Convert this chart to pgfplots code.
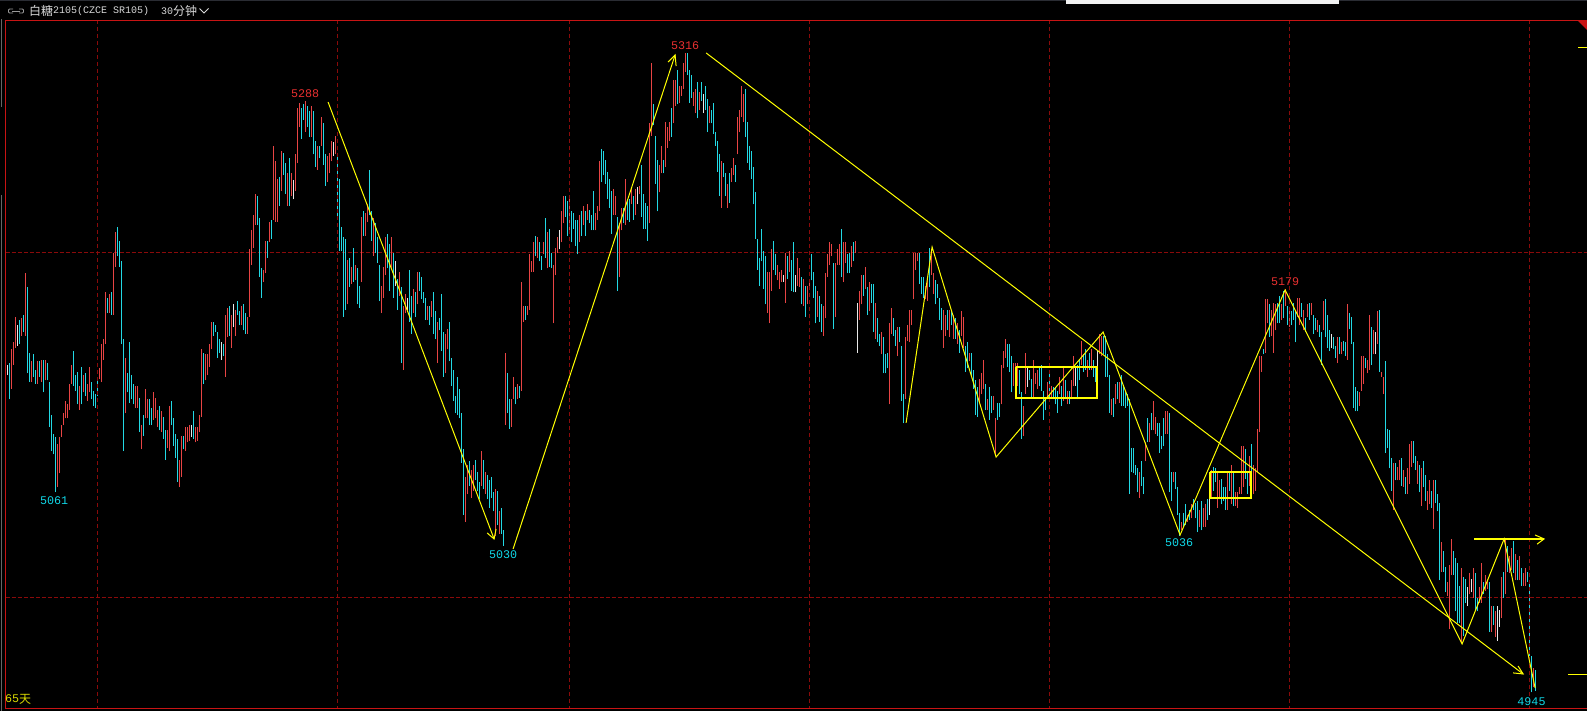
\documentclass[border=0pt]{standalone}
\usepackage{fontspec}
\usepackage{pgfplots}
\usepackage{pgfplotstable}
\pgfplotsset{compat=1.18}
\setmainfont{Liberation Mono}
\newfontfamily\cjk{Noto Sans CJK SC}
\definecolor{cR}{HTML}{E84444}
\definecolor{cB}{HTML}{22D8E4}
\definecolor{cW}{HTML}{E8E8E8}
\definecolor{cGrid}{HTML}{8A0A0A}
\definecolor{cFrame}{HTML}{C81414}
\definecolor{cStripe}{HTML}{2A2C33}
\definecolor{yel}{HTML}{FFFF00}
\definecolor{lblR}{HTML}{E83030}
\definecolor{lblB}{HTML}{10D8E8}
\pgfplotsset{hlbar/.style n args={2}{draw=none,mark=none,x filter/.expression={\thisrow{c}==#2?x:nan},error bars/.cd,y dir=plus,y explicit,error mark=none,error bar style={line width=1bp,solid,draw=#1},/pgfplots/.cd}}
% i low high colour (1 red, 2 cyan, 3 white), 30 min bars
\pgfplotstableread{
i lo hi c
0 5129 5135 3
1 5115 5136 2
2 5121 5144 1
3 5135 5148 1
4 5145 5163 1
5 5146 5158 3
6 5147 5161 2
7 5152 5162 1
8 5154 5164 2
9 5152 5188 1
10 5130 5180 2
11 5125 5142 2
12 5125 5137 1
13 5128 5141 2
14 5124 5132 2
15 5124 5137 1
16 5128 5137 2
17 5125 5138 1
18 5119 5138 2
19 5126 5138 1
20 5126 5136 2
21 5099 5125 2
22 5085 5106 2
23 5083 5095 2
24 5061 5093 2
25 5064 5089 1
26 5072 5093 1
27 5093 5100 1
28 5100 5107 1
29 5104 5114 1
30 5104 5112 1
31 5109 5124 1
32 5124 5135 1
33 5123 5143 2
34 5120 5129 2
35 5112 5131 2
36 5109 5123 1
37 5112 5134 2
38 5119 5129 1
39 5117 5130 2
40 5114 5124 1
41 5119 5134 1
42 5115 5125 2
43 5111 5120 2
44 5110 5118 2
45 5117 5128 2
46 5127 5133 1
47 5125 5147 1
48 5138 5150 1
49 5147 5177 1
50 5165 5174 2
51 5165 5176 1
52 5164 5177 2
53 5164 5200 1
54 5192 5212 1
55 5198 5215 2
56 5192 5207 2
57 5147 5195 2
58 5085 5150 2
59 5107 5139 1
60 5119 5130 2
61 5113 5148 2
62 5115 5129 2
63 5112 5124 2
64 5110 5123 1
65 5110 5123 1
66 5096 5116 2
67 5086 5100 1
68 5094 5106 2
69 5104 5121 1
70 5104 5115 1
71 5100 5115 2
72 5100 5110 2
73 5103 5119 1
74 5104 5116 1
75 5099 5109 1
76 5097 5111 2
77 5096 5108 1
78 5092 5105 2
79 5080 5097 2
80 5087 5097 1
81 5085 5111 1
82 5100 5114 2
83 5088 5104 2
84 5081 5095 2
85 5067 5092 2
86 5064 5080 1
87 5070 5094 1
88 5086 5094 2
89 5085 5099 1
90 5090 5099 1
91 5091 5100 1
92 5093 5100 3
93 5092 5108 2
94 5090 5099 1
95 5091 5099 1
96 5096 5106 1
97 5105 5144 1
98 5124 5142 2
99 5126 5141 1
100 5129 5141 1
101 5134 5147 1
102 5144 5160 1
103 5152 5160 2
104 5154 5158 2
105 5139 5154 2
106 5142 5150 2
107 5138 5148 3
108 5140 5147 2
109 5128 5164 1
110 5151 5168 1
111 5152 5169 2
112 5145 5164 1
113 5157 5170 3
114 5152 5167 1
115 5164 5172 2
116 5158 5166 2
117 5158 5169 1
118 5155 5170 2
119 5153 5165 2
120 5153 5163 1
121 5163 5202 1
122 5193 5213 1
123 5203 5222 1
124 5216 5234 1
125 5216 5233 2
126 5186 5220 2
127 5174 5191 2
128 5183 5190 1
129 5188 5207 1
130 5197 5207 2
131 5206 5218 1
132 5208 5219 2
133 5219 5262 1
134 5218 5253 1
135 5218 5243 1
136 5227 5244 2
137 5236 5259 1
138 5245 5258 2
139 5234 5252 2
140 5227 5246 1
141 5227 5255 2
142 5233 5246 1
143 5231 5242 3
144 5236 5257 1
145 5252 5284 1
146 5273 5287 1
147 5266 5284 2
148 5277 5286 2
149 5270 5288 1
150 5273 5285 2
151 5267 5282 2
152 5267 5285 1
153 5257 5282 2
154 5250 5265 2
155 5248 5262 1
156 5255 5262 2
157 5262 5279 1
158 5251 5275 2
159 5239 5257 2
160 5241 5256 1
161 5246 5258 1
162 5253 5265 1
163 5256 5264 3
164 5257 5268 1
165 5220 5257 2
166 5201 5243 2
167 5201 5215 2
168 5163 5209 2
169 5167 5208 2
170 5170 5196 1
171 5180 5197 2
172 5182 5192 1
173 5183 5203 2
174 5184 5193 1
175 5170 5191 2
176 5168 5181 2
177 5183 5221 1
178 5210 5224 2
179 5210 5223 1
180 5218 5228 1
181 5222 5248 2
182 5207 5224 2
183 5198 5220 1
184 5200 5217 2
185 5194 5209 2
186 5172 5193 2
187 5165 5181 1
188 5174 5192 1
189 5187 5209 1
190 5191 5211 2
191 5178 5205 2
192 5190 5209 1
193 5174 5200 2
194 5181 5195 3
195 5167 5185 2
196 5175 5189 1
197 5136 5180 2
198 5132 5169 1
199 5165 5176 1
200 5167 5174 3
201 5160 5190 2
202 5153 5175 2
203 5165 5179 1
204 5163 5177 2
205 5170 5189 1
206 5178 5189 2
207 5173 5186 2
208 5171 5177 2
209 5161 5174 2
210 5161 5169 1
211 5158 5169 2
212 5163 5172 1
213 5153 5177 2
214 5150 5166 2
215 5136 5160 1
216 5155 5162 2
217 5143 5176 2
218 5128 5154 2
219 5130 5153 1
220 5144 5156 1
221 5137 5160 2
222 5123 5139 2
223 5114 5132 2
224 5107 5117 2
225 5106 5128 2
226 5104 5121 2
227 5078 5107 2
228 5048 5086 2
229 5044 5070 1
230 5060 5077 1
231 5065 5079 2
232 5058 5074 1
233 5062 5077 1
234 5068 5080 2
235 5062 5073 2
236 5057 5067 2
237 5065 5085 1
238 5063 5080 2
239 5060 5073 1
240 5057 5071 2
241 5052 5068 2
242 5058 5070 2
243 5050 5061 2
244 5036 5063 1
245 5042 5062 2
246 5037 5050 1
247 5037 5052 2
248 5030 5039 2
249 5100 5142 1
250 5107 5130 2
251 5098 5115 2
252 5099 5115 1
253 5115 5128 1
254 5112 5122 2
255 5115 5124 1
256 5116 5123 2
257 5120 5183 1
258 5160 5169 1
259 5161 5169 2
260 5164 5169 1
261 5167 5199 1
262 5189 5195 1
263 5189 5206 1
264 5198 5210 2
265 5197 5209 1
266 5195 5206 2
267 5190 5198 2
268 5199 5206 1
269 5197 5220 2
270 5191 5212 1
271 5192 5214 2
272 5191 5200 2
273 5159 5193 1
274 5187 5203 1
275 5200 5209 1
276 5202 5213 3
277 5206 5224 1
278 5217 5233 1
279 5221 5233 2
280 5210 5230 2
281 5213 5231 1
282 5206 5224 2
283 5214 5223 2
284 5204 5219 2
285 5199 5219 2
286 5206 5222 1
287 5210 5224 2
288 5216 5227 1
289 5210 5224 2
290 5219 5228 1
291 5217 5225 2
292 5213 5222 2
293 5213 5236 2
294 5213 5223 1
295 5219 5227 1
296 5224 5253 1
297 5241 5260 2
298 5245 5259 2
299 5240 5254 2
300 5231 5247 2
301 5226 5243 2
302 5211 5236 2
303 5222 5237 1
304 5222 5233 1
305 5178 5221 2
306 5186 5217 1
307 5213 5226 1
308 5217 5226 2
309 5216 5243 1
310 5219 5231 2
311 5218 5231 2
312 5228 5238 1
313 5219 5233 2
314 5222 5237 1
315 5228 5238 3
316 5234 5239 1
317 5221 5251 2
318 5214 5234 2
319 5214 5229 2
320 5207 5227 2
321 5217 5275 1
322 5268 5310 1
323 5274 5286 2
324 5240 5268 2
325 5224 5254 2
326 5235 5251 1
327 5246 5262 1
328 5246 5254 2
329 5250 5276 1
330 5261 5273 1
331 5265 5276 1
332 5267 5284 2
333 5275 5300 1
334 5285 5300 1
335 5286 5306 2
336 5287 5297 1
337 5291 5297 1
338 5295 5310 1
339 5305 5316 1
340 5303 5316 2
341 5287 5306 2
342 5290 5303 2
343 5285 5293 1
344 5281 5295 1
345 5278 5299 2
346 5283 5293 1
347 5288 5299 2
348 5281 5292 3
349 5283 5297 2
350 5270 5289 2
351 5275 5285 1
352 5275 5283 2
353 5269 5287 2
354 5262 5270 2
355 5247 5265 2
356 5233 5257 2
357 5226 5253 1
358 5244 5252 2
359 5233 5246 2
360 5226 5240 1
361 5229 5246 2
362 5241 5249 1
363 5245 5255 1
364 5241 5251 2
365 5257 5279 1
366 5270 5283 1
367 5279 5297 1
368 5276 5292 1
369 5267 5295 2
370 5252 5276 2
371 5248 5262 2
372 5243 5259 2
373 5228 5250 2
374 5208 5235 2
375 5190 5208 2
376 5181 5197 2
377 5195 5214 2
378 5179 5201 2
379 5170 5198 2
380 5165 5189 1
381 5159 5189 1
382 5178 5202 1
383 5190 5207 2
384 5187 5199 2
385 5184 5193 1
386 5179 5189 1
387 5183 5190 1
388 5183 5187 3
389 5171 5200 1
390 5185 5198 2
391 5189 5201 1
392 5178 5196 2
393 5177 5206 2
394 5177 5187 3
395 5181 5197 1
396 5180 5191 1
397 5170 5186 2
398 5169 5185 1
399 5163 5181 2
400 5170 5181 1
401 5179 5184 1
402 5184 5199 2
403 5174 5189 2
404 5159 5181 2
405 5163 5178 1
406 5160 5175 2
407 5154 5170 2
408 5152 5169 1
409 5162 5188 1
410 5186 5199 1
411 5193 5206 1
412 5198 5205 1
413 5156 5194 2
414 5163 5194 1
415 5193 5202 1
416 5193 5205 1
417 5186 5214 2
418 5183 5206 1
419 5194 5206 1
420 5188 5199 2
421 5188 5200 2
422 5192 5204 1
423 5195 5206 2
424 5200 5207 1
425 5142 5171 3
426 5161 5178 1
427 5170 5187 1
428 5175 5187 2
429 5179 5192 1
430 5164 5180 2
431 5166 5183 1
432 5171 5182 2
433 5154 5182 2
434 5150 5171 1
435 5148 5162 2
436 5146 5153 2
437 5141 5154 1
438 5130 5151 2
439 5130 5141 2
440 5133 5142 2
441 5112 5159 1
442 5153 5168 1
443 5152 5162 2
444 5146 5155 2
445 5140 5157 1
446 5148 5157 2
447 5114 5146 2
448 5101 5118 2
449 5115 5151 1
450 5149 5158 1
451 5148 5167 1
452 5158 5167 1
453 5173 5200 1
454 5190 5200 1
455 5195 5200 1
456 5182 5200 2
457 5176 5186 2
458 5174 5186 2
459 5173 5181 1
460 5172 5184 1
461 5180 5203 2
462 5187 5202 1
463 5176 5188 1
464 5170 5184 2
465 5174 5182 2
466 5161 5174 2
467 5155 5168 2
468 5145 5167 1
469 5152 5164 1
470 5155 5167 2
471 5151 5167 1
472 5158 5167 2
473 5150 5164 1
474 5150 5162 2
475 5147 5159 1
476 5142 5155 2
477 5152 5166 1
478 5145 5163 1
479 5131 5146 2
480 5133 5148 2
481 5137 5142 1
482 5128 5142 2
483 5121 5132 2
484 5106 5126 2
485 5105 5122 2
486 5113 5127 1
487 5118 5130 1
488 5121 5138 1
489 5109 5124 2
490 5109 5115 1
491 5103 5122 2
492 5107 5117 2
493 5109 5117 1
494 5082 5104 1
495 5103 5113 2
496 5105 5113 2
497 5112 5135 1
498 5133 5143 1
499 5139 5150 1
500 5134 5147 2
501 5131 5147 2
502 5119 5140 2
503 5123 5136 1
504 5115 5136 1
505 5123 5136 1
506 5118 5132 2
507 5092 5119 2
508 5094 5111 1
509 5118 5142 1
510 5122 5134 3
511 5126 5132 2
512 5116 5127 2
513 5116 5138 1
514 5124 5130 1
515 5121 5132 1
516 5123 5134 2
517 5120 5135 2
518 5103 5120 2
519 5109 5116 2
520 5115 5125 1
521 5115 5131 2
522 5116 5123 1
523 5115 5122 2
524 5112 5122 2
525 5107 5120 2
526 5118 5128 1
527 5111 5123 2
528 5114 5133 1
529 5115 5126 2
530 5112 5120 1
531 5112 5120 2
532 5115 5126 1
533 5123 5140 1
534 5123 5134 3
535 5115 5135 2
536 5126 5138 2
537 5135 5149 1
538 5131 5141 2
539 5132 5144 2
540 5128 5138 1
541 5132 5142 2
542 5132 5144 1
543 5128 5138 2
544 5125 5134 2
545 5134 5143 3
546 5141 5153 1
547 5140 5152 1
548 5141 5152 2
549 5128 5152 2
550 5128 5141 2
551 5107 5129 2
552 5106 5115 1
553 5105 5116 2
554 5112 5124 1
555 5115 5125 2
556 5113 5125 1
557 5111 5129 2
558 5111 5123 2
559 5110 5119 2
560 5111 5118 2
561 5060 5115 2
562 5073 5087 2
563 5072 5087 2
564 5071 5077 2
565 5061 5075 2
566 5058 5073 1
567 5065 5079 2
568 5060 5070 2
569 5079 5090 1
570 5090 5104 2
571 5090 5101 1
572 5097 5107 2
573 5097 5114 1
574 5095 5105 1
575 5094 5101 2
576 5084 5101 2
577 5086 5094 2
578 5088 5104 2
579 5095 5108 1
580 5095 5108 1
581 5061 5107 2
582 5056 5073 2
583 5067 5073 1
584 5063 5073 2
585 5048 5064 2
586 5036 5049 2
587 5039 5044 1
588 5041 5049 2
589 5042 5054 2
590 5044 5048 1
591 5045 5051 2
592 5046 5054 1
593 5051 5057 2
594 5046 5055 2
595 5038 5056 2
596 5041 5051 1
597 5039 5056 2
598 5041 5052 1
599 5041 5054 1
600 5045 5057 2
601 5048 5058 3
602 5058 5074 1
603 5062 5076 2
604 5067 5075 2
605 5052 5073 1
606 5057 5068 1
607 5054 5069 2
608 5056 5064 2
609 5051 5064 2
610 5051 5073 1
611 5062 5073 2
612 5054 5077 1
613 5053 5073 2
614 5053 5061 1
615 5052 5061 1
616 5060 5064 1
617 5060 5088 1
618 5064 5088 1
619 5069 5086 2
620 5060 5073 2
621 5065 5082 1
622 5072 5089 2
623 5060 5077 1
624 5062 5075 1
625 5073 5098 1
626 5096 5140 1
627 5131 5140 1
628 5141 5144 2
629 5142 5173 1
630 5159 5173 1
631 5151 5170 2
632 5152 5167 1
633 5142 5171 1
634 5155 5170 1
635 5159 5171 2
636 5159 5175 2
637 5161 5170 1
638 5162 5178 2
639 5169 5179 1
640 5158 5169 2
641 5157 5167 1
642 5158 5166 2
643 5161 5171 2
644 5148 5167 2
645 5163 5174 1
646 5158 5174 1
647 5163 5171 2
648 5155 5167 1
649 5154 5162 2
650 5163 5170 1
651 5161 5171 2
652 5164 5171 1
653 5153 5164 2
654 5155 5162 2
655 5154 5161 1
656 5151 5158 2
657 5135 5154 2
658 5155 5172 1
659 5151 5173 2
660 5145 5164 2
661 5143 5155 2
662 5145 5153 3
663 5144 5151 2
664 5139 5146 2
665 5136 5151 1
666 5141 5151 2
667 5141 5148 1
668 5143 5149 2
669 5140 5148 2
670 5138 5170 1
671 5156 5165 2
672 5147 5163 2
673 5110 5148 2
674 5108 5122 2
675 5108 5120 2
676 5111 5119 1
677 5120 5140 1
678 5124 5140 1
679 5133 5139 2
680 5130 5138 1
681 5132 5164 1
682 5135 5157 2
683 5141 5155 1
684 5141 5154 3
685 5147 5166 1
686 5131 5167 2
687 5128 5131 1
688 5118 5128 1
689 5084 5137 2
690 5087 5098 2
691 5075 5097 2
692 5062 5081 2
693 5051 5078 1
694 5068 5078 2
695 5068 5076 1
696 5068 5080 1
697 5065 5081 2
698 5064 5074 1
699 5060 5070 2
700 5060 5075 1
701 5066 5089 1
702 5076 5091 1
703 5078 5091 2
704 5074 5082 2
705 5066 5079 1
706 5061 5077 2
707 5053 5075 1
708 5064 5079 2
709 5056 5071 2
710 5051 5062 1
711 5054 5068 1
712 5052 5062 2
713 5040 5068 1
714 5055 5068 2
715 5050 5060 2
716 5010 5055 2
717 5015 5032 1
718 5015 5027 2
719 5003 5018 2
720 5001 5009 1
721 4982 5019 1
722 5013 5034 1
723 5013 5027 2
724 4992 5023 2
725 4985 5020 2
726 4985 5007 2
727 4974 5017 1
728 4978 5012 2
729 4997 5011 2
730 4995 5006 3
731 5002 5014 1
732 5003 5011 3
733 5000 5017 1
734 4993 5014 2
735 4992 5000 2
736 4997 5006 1
737 4997 5020 1
738 5002 5009 2
739 5004 5013 1
740 5005 5010 1
741 4980 5009 2
742 4980 4995 1
743 4984 4995 2
744 4977 4992 1
745 4975 4995 3
746 4983 4993 3
747 4988 5012 1
748 5000 5015 2
749 5002 5034 1
750 5015 5030 2
751 5014 5024 1
752 5016 5029 1
753 5014 5033 2
754 5010 5025 1
755 5010 5022 2
756 5010 5024 1
757 5007 5017 2
758 5007 5014 1
759 5007 5017 1
760 5009 5015 2
761 4966 5009 2
762 4945 4966 2
763 4948 4959 1
764 4946 4958 2
}\bars
\begin{document}
\begin{tikzpicture}[x=1bp,y=-1bp]
\fill[black] (0,0) rectangle (1587,711);
\begin{axis}[at={(0bp,-711bp)},anchor=south west,scale only axis,width=1587bp,height=711bp,hide axis,
  xmin=-3.75,xmax=789.75,ymin=4934.2,ymax=5346.6,clip=true]
% horizontal grid under the bars
\addplot[cGrid,line width=1bp,dash pattern=on 4bp off 2bp] coordinates {(-1,5200) (790,5200)};
\addplot[cGrid,line width=1bp,dash pattern=on 4bp off 2bp] coordinates {(-1,5000) (790,5000)};
% bars
\addplot[hlbar={cR}{1}] table[x=i,y=lo,y error plus expr=\thisrow{hi}-\thisrow{lo}] {\bars};
\addplot[hlbar={cB}{2}] table[x=i,y=lo,y error plus expr=\thisrow{hi}-\thisrow{lo}] {\bars};
\addplot[hlbar={cW}{3}] table[x=i,y=lo,y error plus expr=\thisrow{hi}-\thisrow{lo}] {\bars};
% vertical grid, every 120 bars
\addplot[cGrid,line width=1bp,dash pattern=on 4bp off 3bp] coordinates {(45,5335) (45,4936)};
\addplot[cGrid,line width=1bp,dash pattern=on 4bp off 3bp] coordinates {(165,5335) (165,4936)};
\addplot[cGrid,line width=1bp,dash pattern=on 4bp off 3bp] coordinates {(281,5335) (281,4936)};
\addplot[cGrid,line width=1bp,dash pattern=on 4bp off 3bp] coordinates {(401,5335) (401,4936)};
\addplot[cGrid,line width=1bp,dash pattern=on 4bp off 3bp] coordinates {(521,5335) (521,4936)};
\addplot[cGrid,line width=1bp,dash pattern=on 4bp off 3bp] coordinates {(641,5335) (641,4936)};
\addplot[cGrid,line width=1bp,dash pattern=on 4bp off 3bp] coordinates {(761,5335) (761,4936)};
% trend lines
\addplot[yel,line width=1bp] coordinates {(160.3,5287.4) (243.3,5034)};
\addplot[yel,line width=1bp] coordinates {(239.8,5037.5) (243.3,5034) (244.3,5039.8)};
\addplot[yel,line width=1bp] coordinates {(252.8,5028.2) (333.8,5314.7)};
\addplot[yel,line width=1bp] coordinates {(330.3,5310.6) (333.8,5314.7) (334.3,5308.3)};
\addplot[yel,line width=1bp] coordinates {(349.3,5315.9) (757.8,4955.7)};
\addplot[yel,line width=1bp] coordinates {(752.8,4956.3) (757.8,4955.7) (755.3,4960.3)};
\addplot[yel,line width=1bp] coordinates {(449.3,5101.3) (462.3,5203.3) (494.3,5081.5) (547.8,5154) (586.3,5036.3) (638.8,5178.4) (727.3,4973.1) (748.3,5034) (763.8,4947.6)};
\addplot[yel,line width=1.3bp] coordinates {(733.3,5034) (768.3,5034)};
\addplot[yel,line width=1bp] coordinates {(763.8,5036.3) (768.3,5034) (764.8,5031)};
\addplot[yel,line width=1bp] coordinates {(780.3,4955.1) (790,4955.1)};
\addplot[yel,line width=1bp] coordinates {(785.3,5319.3) (790,5319.3)};
\addplot[yel,line width=1.3bp] coordinates {(504.3,5133.7) (544.8,5133.7) (544.8,5115.8) (504.3,5115.8) (504.3,5133.7)};
\addplot[yel,line width=1.3bp] coordinates {(601.3,5072.8) (621.8,5072.8) (621.8,5057.8) (601.3,5057.8) (601.3,5072.8)};
% extreme labels
\node[text=lblR,font=\fontsize{11.7bp}{12bp}\selectfont,inner sep=0pt] at (axis cs:148.8,5292) {5288};
\node[text=lblR,font=\fontsize{11.7bp}{12bp}\selectfont,inner sep=0pt] at (axis cs:338.8,5320) {5316};
\node[text=lblR,font=\fontsize{11.7bp}{12bp}\selectfont,inner sep=0pt] at (axis cs:638.8,5183) {5179};
\node[text=lblB,font=\fontsize{11.7bp}{12bp}\selectfont,inner sep=0pt] at (axis cs:23.3,5056) {5061};
\node[text=lblB,font=\fontsize{11.7bp}{12bp}\selectfont,inner sep=0pt] at (axis cs:247.8,5025) {5030};
\node[text=lblB,font=\fontsize{11.7bp}{12bp}\selectfont,inner sep=0pt] at (axis cs:585.8,5031.6) {5036};
\node[text=lblB,font=\fontsize{11.7bp}{12bp}\selectfont,inner sep=0pt] at (axis cs:762,4939.4) {4945};
\end{axis}
% window frame and header
\fill[cStripe] (0,0) rectangle (1587,1.5);
\fill[white!95!black] (1066,0) rectangle (1339,4);
\fill[cFrame] (5,19.8) rectangle (1587,21);
\fill[cFrame] (5,707.6) rectangle (1587,708.8);
\fill[cFrame] (5,20) rectangle (6,708.8);
\fill[cFrame] (1578,21) -- (1587,21) -- (1587,30) -- cycle;
\fill[black!60!white] (0.6,19) rectangle (1.6,107);
\fill[black!60!white] (0.6,195) rectangle (1.6,711);
\node[anchor=west,inner sep=0pt,text=white!85!black,font=\fontsize{12bp}{12bp}\cjk] at (29,11) {白糖};
\node[anchor=west,inner sep=0pt,text=white!85!black,font=\fontsize{10bp}{12bp}\selectfont] at (53,11) {2105(CZCE SR105)};
\node[anchor=west,inner sep=0pt,text=white!85!black,font=\fontsize{10bp}{12bp}\selectfont] at (161,11) {30};
\node[anchor=west,inner sep=0pt,text=white!85!black,font=\fontsize{12bp}{12bp}\cjk] at (173,11) {分钟};
\draw[white!85!black,line width=1bp] (199.5,8.5) -- (204,13) -- (208.5,8.5);
\draw[white!60!black,line width=0.8bp,rounded corners=1bp] (13,9) -- (8.5,9) -- (8.5,13) -- (13,13);
\draw[white!60!black,line width=0.8bp,rounded corners=1bp] (19,9) -- (23.5,9) -- (23.5,13) -- (19,13);
\draw[white!60!black,line width=0.8bp] (12,11) -- (20,11);
\node[anchor=west,inner sep=0pt,text=yel!85!black,font=\fontsize{11.7bp}{12bp}\selectfont] at (5,699) {65};
\node[anchor=west,inner sep=0pt,text=yel!85!black,font=\fontsize{12bp}{12bp}\cjk] at (19,699) {天};
\end{tikzpicture}
\end{document}
